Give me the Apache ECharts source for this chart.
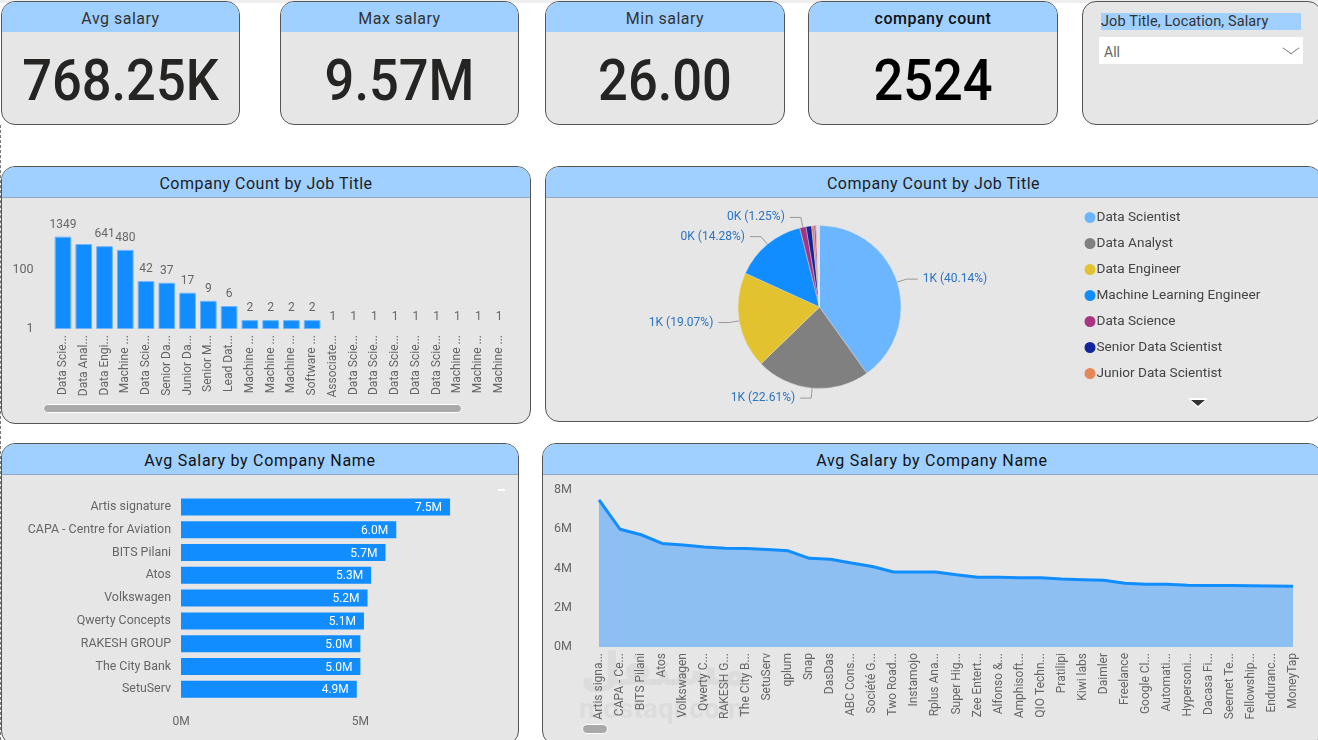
<!DOCTYPE html>
<html>
<head>
<meta charset="utf-8">
<title>Salary dashboard</title>
<script src="https://cdn.jsdelivr.net/npm/echarts@6/dist/echarts.min.js"></script>
<style>
    html, body { margin: 0; padding: 0; width: 1318px; height: 740px; overflow: hidden; background: #fff; font-family: Roboto, sans-serif; }
    .card { position: absolute; box-sizing: border-box; background: #e6e6e6; border: 1px solid #555; border-radius: 14px; overflow: hidden; }
    .head { height: 30px; line-height: 34px; background: #9fd0ff; text-align: center; font-size: 16px; color: #333; letter-spacing: .5px; }
    .panel .head { border-bottom: 1px solid #8ea9c4; color: #1d1d1d; }
    .wide .head { letter-spacing: .7px; color: #111; }
    .value { position: absolute; left: 0; right: 0; top: 43px; text-align: center; font-size: 57px; font-weight: 500; line-height: 72px; color: #252423; transform: scaleX(.92); }
    .chart { position: absolute; left: 0; top: 0; width: 1318px; height: 740px; }
    .bar { position: absolute; background: #a9a9a9; border: 1px solid #fff; border-radius: 5px; box-sizing: border-box; }
    #topline { position: absolute; left: 0; right: 0; top: 0; height: 3px; background: #eee; }
    #dash { position: absolute; left: 0; top: 125px; height: 615px; border-left: 1px dashed #777; }
    #slicerTitle { position: absolute; left: 18px; top: 11px; width: 200px; height: 17px; line-height: 17px; background: #9fd0ff; font-size: 14.5px; color: #333; letter-spacing: .1px; }
    #slicerBox { position: absolute; left: 16px; top: 35px; width: 204px; height: 27px; line-height: 30px; background: #fff; font-size: 14px; color: #666; text-indent: 5px; }
    #slicerArrow { position: absolute; left: 202px; top: 40px; width: 11px; height: 11px; border-right: 1px solid #777; border-bottom: 1px solid #777; transform: scaleY(.75) rotate(45deg); }
    #moreArrow { position: absolute; left: 1188px; top: 398px; width: 0; height: 0; border-left: 10px solid transparent; border-right: 10px solid transparent; border-top: 10px solid #fff; }
    #moreArrow2 { position: absolute; left: 1191px; top: 400px; width: 0; height: 0; border-left: 7px solid transparent; border-right: 7px solid transparent; border-top: 6px solid #333; }
    #vmark { position: absolute; left: 498px; top: 489px; width: 7px; height: 2px; background: #fff; }
</style>
</head>
<body>
<div id="topline"></div>
<div id="dash"></div>
<div id="panels"></div>
<div id="chart" class="chart"></div>
<div class="bar" style="left:43px;top:404px;width:419px;height:9px"></div>
<div class="bar" style="left:582px;top:724px;width:26px;height:10px"></div>
<div id="moreArrow"></div>
<div id="moreArrow2"></div>
<div id="vmark"></div>
<script>
    // KPI 卡片
    var kpiTitles = ["Avg salary", "Max salary", "Min salary", "company count"];
    var kpiValues = ["768.25K", "9.57M", "26.00", "2524"];

    // Company Count by Job Title
    var jobLabels = ["Data Scie...", "Data Anal...", "Data Engi...", "Machine ...", "Data Scie...", "Senior Da...", "Junior Da...", "Senior M...", "Lead Dat...", "Machine ...", "Machine ...", "Machine ...", "Software ...", "Associate...", "Data Scie...", "Data Scie...", "Data Scie...", "Data Scie...", "Data Scie...", "Machine ...", "Machine ...", "Machine ..."];
    var jobCounts = [1349, 760, 641, 480, 42, 37, 17, 9, 6, 2, 2, 2, 2, 1, 1, 1, 1, 1, 1, 1, 1, 1];
    var jobCountTicks = [1, 100];

    // 饼图：前 7 项在图例里，后面的要滚动才看得到
    var pieNames = ["Data Scientist", "Data Analyst", "Data Engineer", "Machine Learning Engineer", "Data Science", "Senior Data Scientist", "Junior Data Scientist", "Senior Machine Learning Engineer", "Lead Data Scientist", "Machine Learning Scientist", "Machine Learning Developer", "Machine Learning Consultant", "Software Engineer", "Associate Data Scientist", "Data Science Manager", "Data Science Consultant", "Data Science Lead", "Data Science Associate", "Data Scientist Intern", "Machine Learning Associate", "Machine Learning Intern", "Machine Learning Lead", "Machine Learning Manager", "Other A", "Other B"];
    var pieValues = [1349, 760, 641, 480, 42, 37, 17, 9, 6, 2, 2, 2, 2, 1, 1, 1, 1, 1, 1, 1, 1, 1, 1, 1, 1];
    var pieColors = ["#6cb6ff", "#808080", "#e2c22f", "#118dff", "#a83582", "#12239e", "#e6875a", "#6b007b", "#e044a7", "#744ec2", "#d9b300", "#d64550"];

    // Avg Salary by Company Name（单位 M）
    var topCompanies = ["Artis signature", "CAPA - Centre for Aviation", "BITS Pilani", "Atos", "Volkswagen", "Qwerty Concepts", "RAKESH GROUP", "The City Bank", "SetuServ"];
    var topSalaries = [7.5, 6.0, 5.7, 5.3, 5.2, 5.1, 5.0, 5.0, 4.9];

    var lineCompanies = ["Artis signa...", "CAPA - Ce...", "BITS Pilani", "Atos", "Volkswagen", "Qwerty C...", "RAKESH G...", "The City B...", "SetuServ", "qplum", "Snap", "DasDas", "ABC Cons...", "Société G...", "Two Road...", "Instamojo", "Rplus Ana...", "Super Hig...", "Zee Entert...", "Alfonso &...", "Amphisoft...", "QIO Techn...", "Pratilipi", "Kiwi labs", "Daimler", "Freelance", "Google Cl...", "Automati...", "Hypersoni...", "Dacasa Fi...", "Seernet Te...", "Fellowship...", "Enduranc...", "MoneyTap"];
    var lineSalaries = [7.5, 6.0, 5.72, 5.28, 5.2, 5.1, 5.03, 5.02, 4.97, 4.9, 4.52, 4.47, 4.28, 4.1, 3.82, 3.82, 3.82, 3.68, 3.55, 3.55, 3.53, 3.53, 3.46, 3.43, 3.4, 3.25, 3.2, 3.2, 3.15, 3.14, 3.13, 3.12, 3.11, 3.09];

    var fontName = "Roboto, sans-serif";
    var panelsEl = document.getElementById("panels");

    function addCard(left, top, width, height, title, cls) {
        var card = document.createElement("div");
        card.className = "card" + (cls ? " " + cls : "");
        card.style.cssText = "left:" + left + "px;top:" + top + "px;width:" + width + "px;height:" + height + "px";
        if (title) {
            card.innerHTML = '<div class="head">' + title + '</div>';
        }
        panelsEl.appendChild(card);
        return card;
    }

    /** 上面一排 KPI **/
    var kpiBoxes = [[1, 239], [280, 239], [545, 240], [808, 250]];
    kpiBoxes.map(function (box, index) {
        var card = addCard(box[0], 1, box[1], 124, kpiTitles[index]);
        var value = document.createElement("div");
        value.className = "value";
        value.innerHTML = kpiValues[index];
        if (index === 3) {
            value.style.color = "#000";
            card.firstChild.style.fontWeight = "500";
            card.firstChild.style.color = "#111";
        }
        card.appendChild(value);
    });

    /** 筛选器 **/
    var slicer = addCard(1082, 1, 240, 124);
    slicer.innerHTML = '<div id="slicerTitle">Job Title, Location, Salary</div><div id="slicerBox">All</div><div id="slicerArrow"></div>';

    addCard(1, 166, 530, 258, "Company Count by Job Title", "panel");
    addCard(545, 166, 777, 256, "Company Count by Job Title", "panel");
    addCard(1, 443, 518, 302, "Avg Salary by Company Name", "panel wide");
    addCard(542, 443, 780, 302, "Avg Salary by Company Name", "panel wide");

    var myChart = echarts.init(document.getElementById("chart"));
    var option = {
        animation: false,
        textStyle: { fontFamily: fontName },
        legend: {
            orient: "vertical",
            left: 1077.5,
            top: 204,
            data: pieNames.slice(0, 7),
            icon: "circle",
            itemWidth: 13,
            itemHeight: 13,
            itemGap: 9,
            selectedMode: false,
            textStyle: { fontSize: 13.6, color: "#444", lineHeight: 17, padding: [0, 0, 0, -5] }
        },
        grid: [
            { left: 52.6, top: 211, width: 456.8, height: 118 },
            { left: 181, top: 495.5, width: 287, height: 205.2 },
            { left: 599, top: 490, width: 694, height: 157 }
        ],
        xAxis: [{
            gridIndex: 0,
            type: "category",
            data: jobLabels,
            axisLine: { show: false },
            axisTick: { show: false },
            axisLabel: { interval: 0, rotate: 90, margin: 6, fontSize: 12, padding: [6, 0, 0, 0], color: "#666" }
        }, {
            gridIndex: 1,
            type: "value",
            min: 0,
            max: 8,
            interval: 5,
            splitLine: { show: false },
            axisLabel: {
                showMaxLabel: false,
                margin: 15,
                fontSize: 12,
                color: "#666",
                formatter: function (v) { return v + "M"; }
            }
        }, {
            gridIndex: 2,
            type: "category",
            boundaryGap: false,
            data: lineCompanies,
            axisLine: { show: false },
            axisTick: { show: false },
            axisLabel: { interval: 0, rotate: 90, margin: 6, fontSize: 12, padding: [7, 0, 0, 0], color: "#666" }
        }],
        yAxis: [{
            gridIndex: 0,
            type: "log",
            logBase: 10,
            min: 1,
            max: 10000,
            splitLine: { show: false },
            axisLine: { show: false },
            axisTick: { show: false },
            axisLabel: {
                margin: 19,
                fontSize: 12.5,
                padding: [5, 0, 0, 0],
                color: "#666",
                formatter: function (v) { return jobCountTicks.indexOf(v) >= 0 ? String(v) : ""; }
            }
        }, {
            gridIndex: 1,
            type: "category",
            inverse: true,
            data: topCompanies,
            axisLine: { show: false },
            axisTick: { show: false },
            axisLabel: { margin: 10, fontSize: 12.4, padding: [4, 0, 0, 0], color: "#666" }
        }, {
            gridIndex: 2,
            type: "value",
            min: 0,
            max: 8,
            interval: 2,
            splitLine: { show: false },
            axisLabel: {
                margin: 27,
                fontSize: 12.5,
                padding: [4, 0, 0, 0],
                color: "#666",
                formatter: function (v) { return v + "M"; }
            }
        }],
        series: [{
            type: "bar",
            xAxisIndex: 0,
            yAxisIndex: 0,
            data: jobCounts.map(function (v, i) {
                // Data Analyst 的标签在原图里被挤掉了；值为 1 的柱子高度是 0，不要描边
                if (i === 1) {
                    return { value: v, label: { show: false } };
                }
                return v === 1 ? { value: v, itemStyle: { borderWidth: 0, color: "transparent" } } : v;
            }),
            barWidth: "80%",
            itemStyle: { color: "#118dff", borderColor: "#6db5ff", borderWidth: 1 },
            label: { show: true, position: "top", distance: 6, fontSize: 12, color: "#666" }
        }, {
            type: "pie",
            center: [819.5, 307],
            radius: [0, 81.5],
            startAngle: 90,
            data: pieNames.map(function (name, i) {
                return { name: name, value: pieValues[i], label: { show: i < 5 }, labelLine: { show: i < 5 } };
            }),
            color: pieColors,
            itemStyle: { borderColor: "#e6e6e6", borderWidth: 0.4 },
            label: {
                fontSize: 12,
                color: "#2a74c0",
                formatter: function (p) {
                    return Math.round(p.value / 1000) + "K (" + p.percent.toFixed(2) + "%)";
                }
            },
            labelLine: { length: 10, length2: 11, lineStyle: { color: "#999", width: 1 } }
        }, {
            type: "bar",
            xAxisIndex: 1,
            yAxisIndex: 1,
            data: topSalaries,
            barWidth: 17,
            itemStyle: { color: "#118dff" },
            label: {
                show: true,
                position: "insideRight",
                distance: 8,
                offset: [0, 1],
                fontSize: 12,
                color: "#fff",
                formatter: function (p) { return p.value.toFixed(1) + "M"; }
            }
        }, {
            type: "line",
            xAxisIndex: 2,
            yAxisIndex: 2,
            data: lineSalaries,
            symbol: "none",
            lineStyle: { color: "#118dff", width: 3 },
            areaStyle: { color: "#8dbff2", opacity: 1 }
        }],
        graphic: [
            { type: "text", left: 580, top: 650, z: -1, style: { text: "مستقل", fontSize: 46, fontFamily: "DejaVu Sans", fontWeight: "bold", fill: "rgba(120,120,120,.09)" } },
            { type: "text", left: 579, top: 697, z: -1, style: { text: "mostaql.com", fontSize: 28, fontFamily: fontName, fontWeight: "bold", fill: "rgba(120,120,120,.09)" } }
        ]
    };
    myChart.setOption(option);
</script>
</body>
</html>
